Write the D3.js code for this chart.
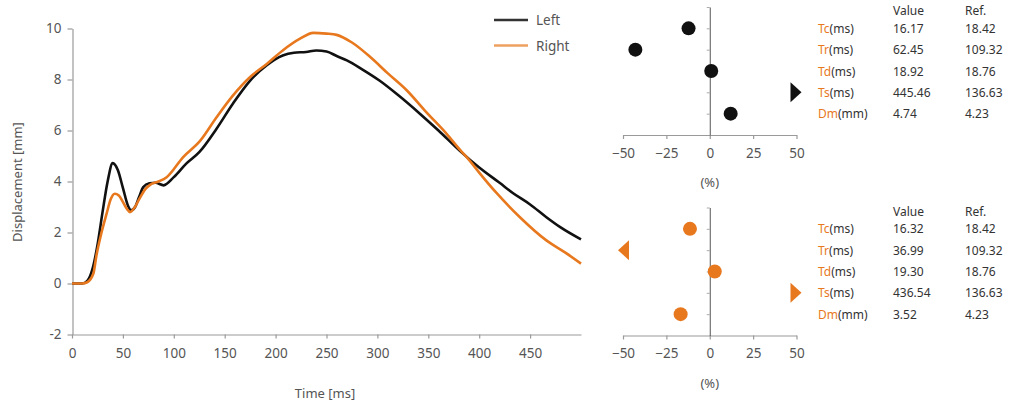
<!DOCTYPE html>
<html><head><meta charset="utf-8">
<script src="https://cdn.jsdelivr.net/npm/d3@7"></script>
<style>
body{margin:0;background:#fff;}
text{font-family:"Noto Sans",sans-serif;}
</style></head>
<body><svg id="c" width="1011" height="410"></svg>
<script>
// ---- data ----
const timeLeft  = [0,10,15,20,25,30,35,40,45,50,55,58,62,66,70,76,82,90,100,112,125,142,158,175,191,207,218,230,240,250,260,270,285,302,320,342,360,381,400,420,433,450,466,480,500];
const valueLeft = [0,0,0.1,0.55,1.5,2.8,4.0,4.72,4.45,3.75,3.05,2.87,3.0,3.4,3.78,3.93,3.95,3.85,4.17,4.69,5.15,6.07,7.05,7.96,8.55,8.94,9.05,9.08,9.14,9.1,8.92,8.75,8.4,7.96,7.4,6.65,6.0,5.2,4.55,3.95,3.55,3.1,2.6,2.2,1.73];
const timeRight  = [0,10,15,21,24,29,34,38,42,46,50,54,57,61,67,72,77,85,93,109,126,142,158,175,191,207,224,237,250,260,275,293,310,329,348,368,381,390,400,417,440,466,485,500];
const valueRight = [0,0,0.05,0.39,1.1,2.0,2.74,3.3,3.52,3.45,3.2,2.92,2.8,2.95,3.38,3.7,3.88,4.0,4.17,4.95,5.6,6.52,7.37,8.1,8.6,9.14,9.6,9.83,9.8,9.75,9.45,8.88,8.25,7.57,6.72,5.87,5.25,4.85,4.35,3.55,2.6,1.69,1.2,0.78];
const xTicks = [0,50,100,150,200,250,300,350,400,450];
const yTicks = [-2,0,2,4,6,8,10];
const seriesNames = ["Left","Right"];

const paramNames = ["Tc","Tr","Td","Ts","Dm"];
const paramUnits = ["(ms)","(ms)","(ms)","(ms)","(mm)"];
const leftValues  = ["16.17","62.45","18.92","445.46","4.74"];
const rightValues = ["16.32","36.99","19.30","436.54","3.52"];
const refValues   = ["18.42","109.32","18.76","136.63","4.23"];
const pctTicks = [-50,-25,0,25,50];

// ---- styles ----
const ORANGE = "#e8781e", BLACK = "#111", AXIS = "#9a9a9a", TXT = "#555";
const svg = d3.select("#c");

// ---- main line chart ----
const x = d3.scaleLinear().domain([0,500]).range([72,581]);
const y = d3.scaleLinear().domain([-2,10]).range([334.5,28.5]);
const g = svg.append("g");

const xAxis = g.append("g").attr("transform","translate(0,334.5)")
  .call(d3.axisBottom(x).tickValues(xTicks).tickSize(4).tickSizeOuter(0).tickPadding(10));
const yAxis = g.append("g").attr("transform","translate(72.5,0)")
  .call(d3.axisLeft(y).tickValues(yTicks).tickSize(5).tickSizeOuter(0).tickPadding(6).tickFormat(d=>d));
[xAxis,yAxis].forEach(a=>{
  a.select(".domain").attr("stroke",AXIS).attr("stroke-width",1.2);
  a.selectAll(".tick line").attr("stroke",AXIS).attr("stroke-width",1.2);
  a.selectAll("text").attr("fill",TXT).attr("font-size",13.5);
});

g.append("text").attr("x",325).attr("y",398).attr("text-anchor","middle")
  .attr("fill",TXT).attr("font-size",13).text("Time [ms]");
g.append("text").attr("transform","translate(22,182) rotate(-90)").attr("text-anchor","middle")
  .attr("fill",TXT).attr("font-size",13).text("Displacement [mm]");

const line = d3.line().x(d=>x(d[0])).y(d=>y(d[1])).curve(d3.curveMonotoneX);
const leftPts = timeLeft.map((t,i)=>[t,valueLeft[i]]);
const rightPts = timeRight.map((t,i)=>[t,valueRight[i]]);
g.append("path").datum(leftPts).attr("d",line).attr("fill","none").attr("stroke",BLACK).attr("stroke-width",2.6);
g.append("path").datum(rightPts).attr("d",line).attr("fill","none").attr("stroke",ORANGE).attr("stroke-width",2.6);

// legend
const lg = g.append("g");
seriesNames.forEach((n,i)=>{
  const yy = 20 + i*25.5;
  lg.append("line").attr("x1",494).attr("x2",528).attr("y1",yy).attr("y2",yy)
    .attr("stroke", i===0?"#333":"#eea060").attr("stroke-width",2.4);
  lg.append("text").attr("x",536).attr("y",yy+5).attr("fill",TXT).attr("font-size",13.5).text(n);
});

// ---- deviation dot panels ----
function panel(yOff, values, color){
  const px = d3.scaleLinear().domain([-50,50]).range([623,796.5]);
  const py = d3.scaleLinear().domain([0,6]).range([yOff+7, yOff+135]);
  const pg = svg.append("g");
  const ax = pg.append("g").attr("transform",`translate(0,${yOff+135})`)
    .call(d3.axisBottom(px).tickValues(pctTicks).tickSize(4).tickSizeOuter(0).tickPadding(9));
  ax.select(".domain").attr("stroke",AXIS).attr("stroke-width",1.2);
  ax.selectAll(".tick line").attr("stroke",AXIS).attr("stroke-width",1.2);
  ax.selectAll("text").attr("fill",TXT).attr("font-size",13.5);
  const vy = pg.append("g").attr("transform",`translate(${px(0)},0)`)
    .call(d3.axisLeft(py).tickValues([0,1,2,3,4,5]).tickSize(3).tickSizeOuter(0).tickFormat(""));
  vy.select(".domain").attr("stroke","#555").attr("stroke-width",1);
  vy.selectAll(".tick line").attr("stroke","#aaa").attr("stroke-width",1);
  pg.append("text").attr("x",px(0)).attr("y",yOff+187).attr("text-anchor","middle")
    .attr("fill",TXT).attr("font-size",13).text("(%)");

  const pct = values.map((v,i)=>(+v - +refValues[i]) / +refValues[i] * 100);
  pct.forEach((p,i)=>{
    const cy = py(i+1);
    if (p > 50) {
      const xr = px(50)+5;
      pg.append("path").attr("d",`M${xr-11},${cy-10}L${xr},${cy}L${xr-11},${cy+10}Z`).attr("fill",color);
    } else if (p < -50) {
      const xl = px(-50)-5;
      pg.append("path").attr("d",`M${xl+11},${cy-10}L${xl},${cy}L${xl+11},${cy+10}Z`).attr("fill",color);
    } else {
      pg.append("circle").attr("cx",px(p)).attr("cy",cy).attr("r",7).attr("fill",color);
    }
  });

  // table
  const tg = svg.append("g").attr("font-size",12).attr("fill","#333");
  tg.append("text").attr("x",893).attr("y",yOff+15).text("Value");
  tg.append("text").attr("x",965).attr("y",yOff+15).text("Ref.");
  paramNames.forEach((n,i)=>{
    const ty = py(i+1)+4.5;
    const t = tg.append("text").attr("x",818).attr("y",ty);
    t.append("tspan").attr("fill",ORANGE).text(n);
    t.append("tspan").attr("fill","#333").text(paramUnits[i]);
    tg.append("text").attr("x",893).attr("y",ty).text(values[i]);
    tg.append("text").attr("x",965).attr("y",ty).text(refValues[i]);
  });
}
panel(0, leftValues, BLACK);
panel(200.5, rightValues, ORANGE);
</script>
</body></html>
